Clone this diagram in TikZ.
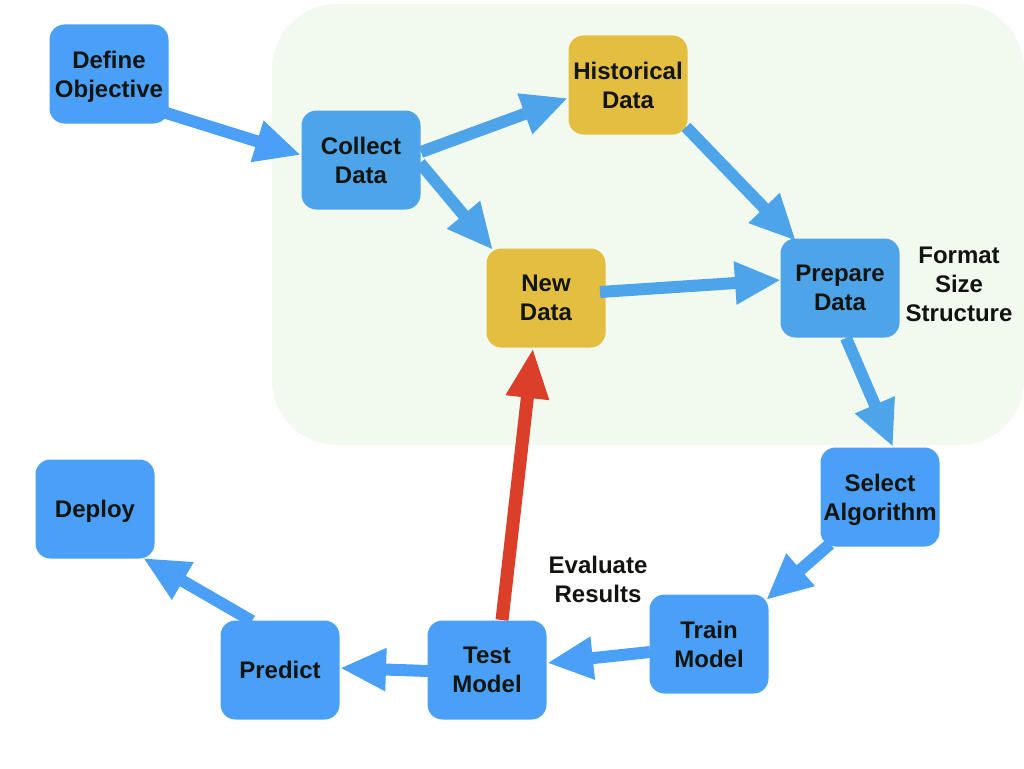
\documentclass[tikz,border=0pt]{standalone}
\usepackage{fontspec}
\setmainfont{Liberation Sans}
\usetikzlibrary{arrows.meta}
\definecolor{blueA}{RGB}{74,160,246}
\definecolor{blueB}{RGB}{78,164,232}
\definecolor{yelB}{RGB}{228,190,64}
\definecolor{redA}{RGB}{219,63,42}
\definecolor{greenBg}{RGB}{242,249,238}
\definecolor{txt}{RGB}{17,20,15}
\tikzset{
  box/.style={minimum width=119pt, minimum height=99pt, inner sep=0pt,
    rounded corners=15pt, align=center, text=txt, text depth=0pt,
    font=\fontsize{24pt}{29pt}\selectfont\bfseries},
  boxout/.style={box, fill=blueA},
  boxin/.style={box, fill=blueB},
  boxy/.style={box, fill=yelB},
  lbl/.style={align=center, text=txt, font=\fontsize{24pt}{29pt}\selectfont\bfseries},
  arr/.style={line width=12pt, -{Triangle[length=46pt,width=40pt]}},
  arrout/.style={arr, draw=blueA},
  arrin/.style={arr, draw=blueB},
  arrred/.style={arr, line width=13pt, draw=redA, -{Triangle[length=50pt,width=40pt]}},
}
\begin{document}
\begin{tikzpicture}[x=1pt,y=-1pt]
\useasboundingbox (0,0) rectangle (1024,768);
\fill[greenBg, rounded corners=65pt] (272,4) rectangle (1024,445);

\node[boxout] (def) at (109,74) {Define\\Objective};
\node[boxin] (col) at (361,160) {Collect\\Data};
\node[boxy] (his) at (628,85) {Historical\\Data};
\node[boxy] (new) at (546,298) {New\\Data};
\node[boxin] (pre) at (840,288) {Prepare\\Data};
\node[boxout] (sel) at (880,497) {Select\\Algorithm};
\node[boxout] (tra) at (709,644) {Train\\Model};
\node[boxout] (tes) at (487,670) {Test\\Model};
\node[boxout] (pred) at (280,670) {Predict};
\node[boxout] (dep) at (95,509) {Deploy};

\node[lbl] (fmt) at (959,284) {Format\\Size\\Structure};
\node[lbl] (eval) at (598,579) {Evaluate\\Results};

\draw[arrout] ([shift={(54,38)}]def.center) -- ([shift={(-60,-5)}]col.center);
\draw[arrin] ([shift={(60,-8)}]col.center) -- ([shift={(-60,13)}]his.center);
\draw[arrin] ([shift={(59,3)}]col.center) -- ([shift={(-53,-48)}]new.center);
\draw[arrin] ([shift={(58,42)}]his.center) -- ([shift={(-44,-47)}]pre.center);
\draw[arrin] ([shift={(54,-6)}]new.center) -- ([shift={(-59,-8)}]pre.center);
\draw[arrin] ([shift={(6,50)}]pre.center) -- ([shift={(13,-50)}]sel.center);
\draw[arrout] ([shift={(-50,47)}]sel.center) -- ([shift={(57,-44)}]tra.center);
\draw[arrout] ([shift={(-59,8)}]tra.center) -- ([shift={(60,-7)}]tes.center);
\draw[arrout] ([shift={(-59,1)}]tes.center) -- ([shift={(60,-2)}]pred.center);
\draw[arrout] ([shift={(-28,-49)}]pred.center) -- ([shift={(48,49)}]dep.center);
\draw[arrred] ([shift={(15,-50)}]tes.center) -- ([shift={(-13,50)}]new.center);
\end{tikzpicture}
\end{document}
